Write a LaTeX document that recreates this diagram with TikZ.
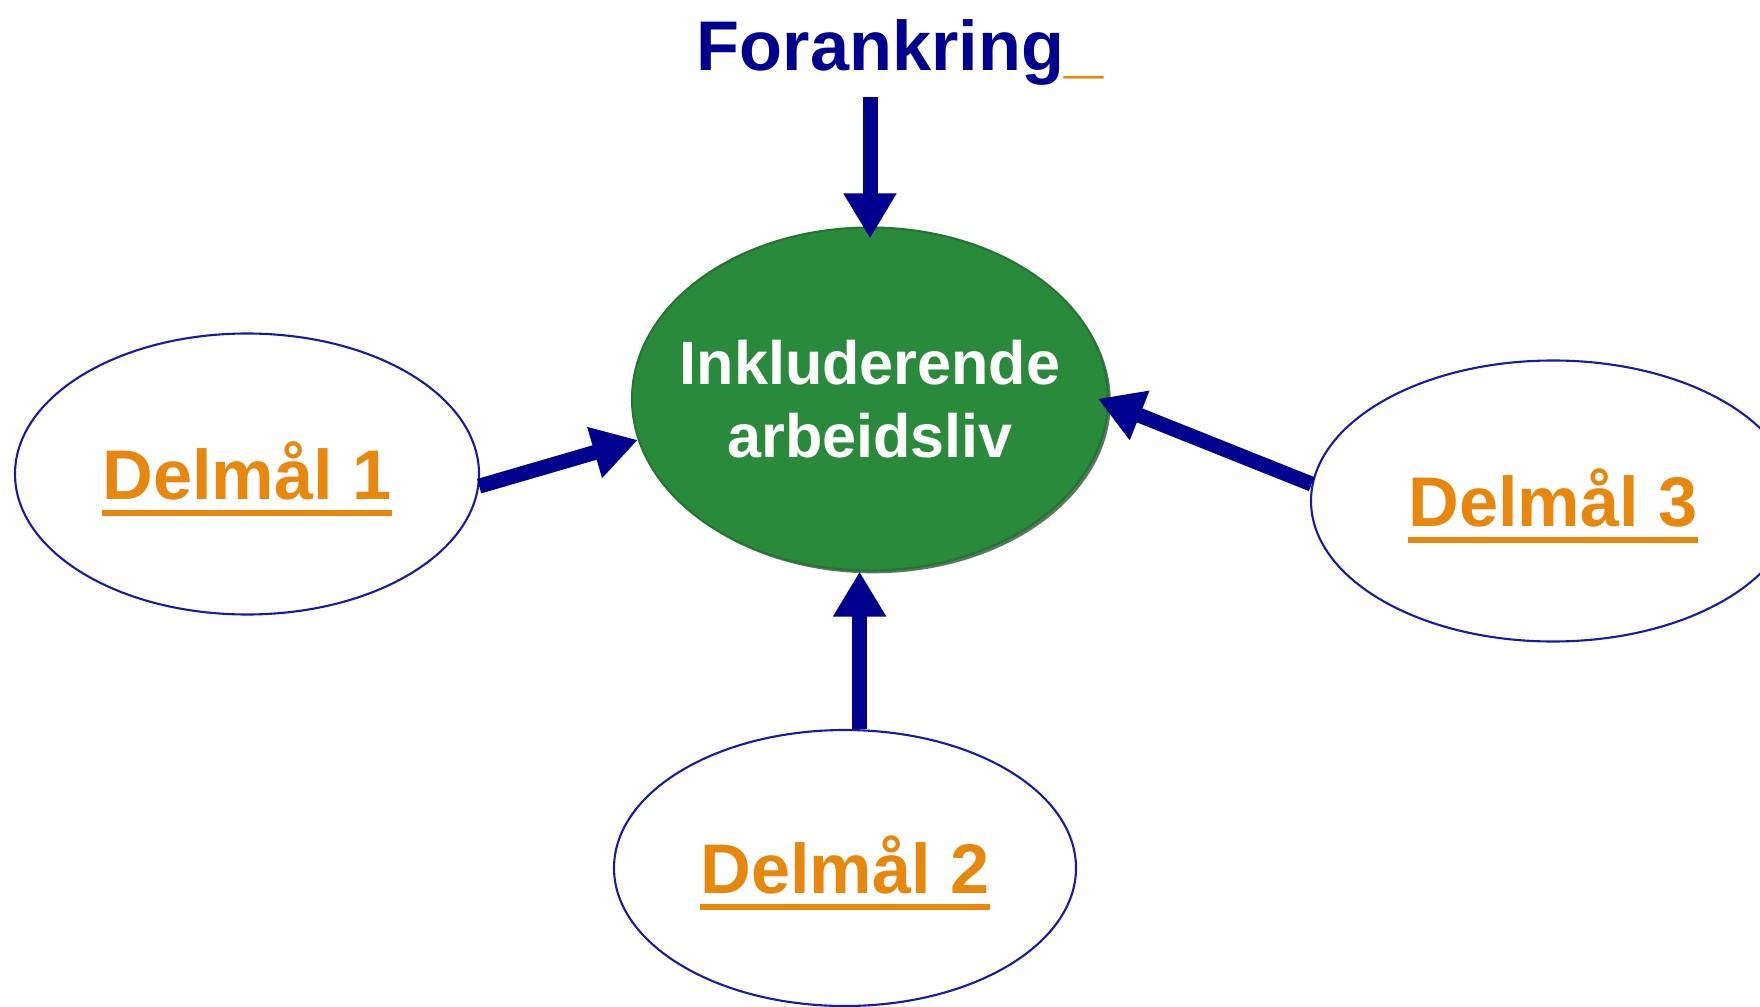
\documentclass[tikz,border=0pt]{standalone}
\usepackage{fontspec}
\setmainfont{Liberation Sans}
\usepackage{xcolor}
\usepackage{tikz}
\usetikzlibrary{arrows.meta,positioning,shapes.geometric,shadows}
\definecolor{navy}{HTML}{00008F}
\definecolor{rimblue}{HTML}{1A1AA0}
\definecolor{coregreen}{HTML}{2A8A3B}
\definecolor{goalorange}{HTML}{E8870E}
\newcommand{\goalul}[1]{\setbox0=\hbox{#1}\rlap{\rule[-1.65mm]{\wd0}{0.6mm}}\box0}
\tikzset{
  goal/.style={draw=rimblue, ellipse, line width=0.6pt, fill=white, inner sep=0pt, text height=6mm, text depth=1mm, text=goalorange, font=\bfseries\fontsize{20pt}{24pt}\selectfont},
  core/.style={ellipse, fill=coregreen, draw=coregreen!85!black, line width=0.6pt, minimum width=4.76cm, minimum height=3.43cm, inner xsep=-5mm, inner ysep=0pt, text=white, align=center, font=\bfseries\fontsize{17.4pt}{20.7pt}\selectfont, drop shadow={shadow xshift=0.8pt, shadow yshift=-0.8pt, fill=coregreen!45!black, opacity=0.7}},
  title/.style={text=navy, inner sep=3pt, font=\bfseries\fontsize{20pt}{24pt}\selectfont},
  arrow/.style={-{Triangle[length=4.5mm, width=5mm]}, line width=1.5mm, draw=navy}
}
\begin{document}
\begin{tikzpicture}[x=0.1mm, y=-0.1mm]
  \useasboundingbox (0,0) rectangle (1760,1007);

  \node[title, anchor=base] (fork) at (900,71) {Forankring\textcolor{goalorange}{\_}};
  \node[core] (incl) at (870,399) {Inkluderende\\arbeidsliv};

  \node[goal, minimum width=4.64cm, minimum height=2.81cm] (delmaal1) at (247,474) {\goalul{Delmål 1}};
  \node[goal, minimum width=4.62cm, minimum height=2.76cm] (delmaal2) at (845,868) {\goalul{Delmål 2}};
  \node[goal, minimum width=4.84cm, minimum height=2.81cm] (delmaal3) at (1553,501) {\goalul{Delmål 3}};

  \draw[arrow, shorten >=-1.2mm] (fork.south -| incl.north) -- (incl.north);
  \draw[arrow] (delmaal1.357) -- (incl.190);
  \draw[arrow] (delmaal2.84) -- (delmaal2.84 |- incl.south);
  \draw[arrow, shorten >=-1.2mm] (delmaal3.176) -- (incl.359);
\end{tikzpicture}
\end{document}
